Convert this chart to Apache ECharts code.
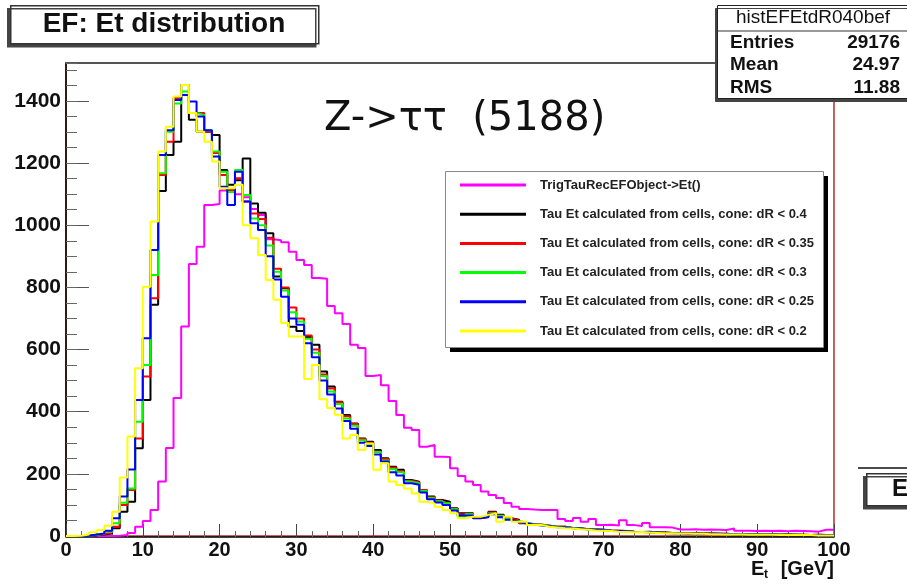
<!DOCTYPE html>
<html>
<head>
<meta charset="utf-8">
<style>
  html, body { margin: 0; padding: 0; background: #fff; }
  #chart-container { width: 907px; height: 588px; }
</style>
<script src="https://cdn.jsdelivr.net/npm/echarts@6/dist/echarts.min.js"></script>
</head>
<body>
<div id="chart-container"></div>
<script>
// bin contents, 1 GeV bins from 0 to 100
var seriesNames = [
  'TrigTauRecEFObject->Et()',
  'Tau Et calculated from cells, cone: dR < 0.4',
  'Tau Et calculated from cells, cone: dR < 0.35',
  'Tau Et calculated from cells, cone: dR < 0.3',
  'Tau Et calculated from cells, cone: dR < 0.25',
  'Tau Et calculated from cells, cone: dR < 0.2'
];
var seriesColors = ['#ff00ff', '#000000', '#ff0000', '#00ff00', '#0000ff', '#ffff00'];

var efObject = [
  0, 0, 0, 0, 0, 0, 1, 3, 10, 30,
  48, 84, 175, 283, 444, 674, 875, 931, 1065, 1068,
  1112, 1110, 1100, 1090, 1052, 1033, 955, 952, 945, 915,
  888, 872, 830, 828, 740, 717, 682, 615, 605, 515,
  518, 485, 434, 389, 348, 341, 287, 293, 255, 254,
  218, 193, 175, 164, 143, 132, 122, 106, 94, 87,
  85, 84, 84, 84, 55, 48, 58, 46, 55, 35,
  36, 34, 51, 35, 32, 42, 28, 28, 27, 21,
  21, 22, 20, 21, 20, 19, 24, 17, 17, 16,
  17, 16, 17, 15, 17, 16, 15, 14, 20, 20
];
var dR040 = [
  0, 0, 1, 2, 5, 8, 25, 78, 110, 282,
  438, 744, 1110, 1226, 1269, 1451, 1339, 1301, 1301, 1290,
  1178, 1130, 1145, 1215, 1070, 1040, 974, 835, 797, 673,
  660, 640, 615, 529, 481, 432, 389, 362, 314, 303,
  277, 250, 223, 213, 180, 175, 148, 127, 116, 110,
  89, 73, 73, 57, 62, 78, 68, 57, 52, 41,
  38, 36, 33, 30, 30, 26, 25, 22, 22, 20,
  18, 17, 16, 14, 13, 14, 12, 11, 10, 10,
  9, 9, 8, 8, 7, 7, 6, 6, 6, 5,
  5, 5, 4, 5, 4, 4, 3, 4, 3, 3
];
var dR035 = [
  0, 0, 1, 3, 6, 11, 30, 100, 148, 314,
  513, 765, 1162, 1269, 1409, 1419, 1361, 1361, 1301, 1232,
  1162, 1113, 1151, 1076, 1038, 1020, 960, 860, 800, 735,
  700, 645, 600, 520, 475, 430, 385, 360, 312, 300,
  272, 248, 220, 208, 178, 172, 148, 125, 114, 107,
  88, 70, 72, 58, 62, 76, 66, 56, 50, 42,
  38, 36, 33, 30, 30, 26, 25, 22, 21, 20,
  18, 17, 16, 14, 13, 13, 12, 11, 10, 10,
  9, 9, 8, 8, 7, 7, 6, 6, 6, 5,
  5, 5, 4, 5, 4, 4, 3, 4, 3, 3
];
var dR030 = [
  0, 0, 1, 4, 7, 14, 41, 107, 153, 368,
  550, 840, 1167, 1301, 1392, 1430, 1361, 1355, 1306, 1237,
  1172, 1107, 1178, 1097, 1022, 1000, 935, 850, 790, 720,
  690, 635, 590, 515, 465, 425, 378, 355, 308, 296,
  270, 243, 215, 205, 175, 170, 145, 122, 112, 105,
  86, 62, 70, 60, 62, 72, 64, 55, 48, 42,
  37, 36, 32, 29, 29, 26, 24, 22, 21, 19,
  17, 16, 15, 13, 13, 12, 11, 10, 9, 9,
  8, 8, 7, 7, 7, 6, 6, 5, 5, 5,
  4, 4, 4, 4, 4, 3, 3, 3, 3, 3
];
var dR025 = [
  0, 0, 1, 5, 8, 17, 57, 127, 214, 438,
  636, 920, 1226, 1306, 1403, 1419, 1398, 1350, 1306, 1221,
  1124, 1065, 1172, 1076, 1006, 985, 900, 825, 770, 700,
  680, 620, 575, 500, 455, 410, 370, 345, 300, 290,
  262, 240, 205, 195, 170, 165, 140, 118, 108, 100,
  82, 66, 66, 58, 60, 70, 60, 52, 46, 40,
  36, 34, 31, 28, 28, 25, 24, 21, 20, 19,
  17, 16, 15, 13, 13, 12, 11, 10, 9, 9,
  8, 8, 7, 7, 7, 6, 6, 5, 5, 5,
  4, 5, 4, 4, 4, 3, 3, 3, 3, 3
];
var dR020 = [
  0, 1, 5, 12, 19, 33, 78, 188, 320, 540,
  802, 1012, 1237, 1317, 1414, 1451, 1361, 1301, 1269, 1205,
  1119, 1119, 1130, 1000, 958, 904, 824, 760, 685, 642,
  642, 505, 550, 440, 412, 390, 314, 325, 277, 298,
  213, 234, 175, 164, 153, 137, 110, 105, 94, 84,
  73, 57, 62, 62, 68, 73, 46, 62, 46, 46,
  35, 35, 30, 27, 25, 24, 22, 20, 18, 17,
  16, 14, 13, 12, 13, 11, 10, 9, 9, 8,
  8, 7, 7, 6, 6, 5, 5, 5, 4, 4,
  4, 4, 3, 3, 3, 3, 3, 2, 2, 2
];
var xTicks = [0, 10, 20, 30, 40, 50, 60, 70, 80, 90, 100];
var yTicks = [0, 200, 400, 600, 800, 1000, 1200, 1400];

var statsTitle = 'histEFEtdR040bef';
var statsLabels = ['Entries', 'Mean', 'RMS'];
var statsValues = ['29176', '24.97', '11.88'];

var dom = document.getElementById('chart-container');
var myChart = echarts.init(dom, null, {
  renderer: 'canvas',
  useDirtyRect: false
});

var FONT = '"Liberation Sans", Arial, sans-serif';
var yMax = 1522;

// step 'end' keeps each bin flat over [n, n+1)
function toSteps(values) {
  var pts = values.map(function (v, i) { return [i, v]; });
  pts.push([values.length, values[values.length - 1]]);
  return pts;
}

var allData = [efObject, dR040, dR035, dR030, dR025, dR020];

var series = allData.map(function (vals, k) {
  return {
    name: seriesNames[k],
    type: 'line',
    step: 'end',
    showSymbol: false,
    symbol: 'none',
    color: seriesColors[k],
    lineStyle: { color: seriesColors[k], width: 2 },
    itemStyle: { color: seriesColors[k] },
    data: toSteps(vals),
    animation: false
  };
});

var graphics = [
  // title box
  {
    type: 'rect', left: 10, top: 5, z: 10,
    shape: { width: 308, height: 38 },
    style: { fill: '#fff', stroke: '#333', lineWidth: 1.5, shadowColor: '#444', shadowOffsetX: -3, shadowOffsetY: 3, shadowBlur: 0 }
  },
  {
    type: 'text', x: 164, y: 24, z: 11,
    style: { text: 'EF: Et distribution', font: 'bold 28px ' + FONT, fill: '#111', align: 'center', verticalAlign: 'middle' }
  },
  // stats box, drawn over the frame
  {
    type: 'rect', left: 717, top: 5, z: 10,
    shape: { width: 200, height: 93 },
    style: { fill: '#fff', stroke: '#222', lineWidth: 1, shadowColor: '#444', shadowOffsetX: -2, shadowOffsetY: 3, shadowBlur: 0 }
  },
  {
    type: 'line', z: 11, shape: { x1: 717, y1: 31, x2: 907, y2: 31 },
    style: { stroke: '#333', lineWidth: 1 }
  },
  {
    type: 'text', x: 813, y: 18, z: 11,
    style: { text: statsTitle, font: '19px ' + FONT, fill: '#111', align: 'center', verticalAlign: 'middle' }
  },
  // Z -> tau tau label
  {
    type: 'text', x: 324, y: 120,
    style: { text: 'Z->\u03c4\u03c4  (5188)', font: '40px "DejaVu Sans", sans-serif', fill: '#111', align: 'left', verticalAlign: 'middle' }
  },
  // legend frame with ROOT-style shadow, kept above the curves
  {
    type: 'rect', left: 450, top: 176, z: 3,
    shape: { width: 378, height: 176 },
    style: { fill: '#000' }
  },
  {
    type: 'rect', left: 445, top: 171, z: 3,
    shape: { width: 378, height: 176 },
    style: { fill: '#fff', stroke: '#888', lineWidth: 1 }
  },
  // axis title
  {
    type: 'text', x: 751, y: 569,
    style: { text: 'E', font: 'bold 20px ' + FONT, fill: '#111', align: 'left', verticalAlign: 'middle' }
  },
  {
    type: 'text', x: 764, y: 575,
    style: { text: 't', font: 'bold 12px ' + FONT, fill: '#111', align: 'left', verticalAlign: 'middle' }
  },
  {
    type: 'text', x: 834, y: 569,
    style: { text: '[GeV]', font: 'bold 20px ' + FONT, fill: '#111', align: 'right', verticalAlign: 'middle' }
  },
  // neighbouring pad's title, cut at the edge
  {
    type: 'line', shape: { x1: 858, y1: 468, x2: 907, y2: 468 },
    style: { stroke: '#111', lineWidth: 1.5 }
  },
  {
    type: 'rect', left: 866, top: 473,
    shape: { width: 60, height: 32 },
    style: { fill: '#fff', stroke: '#333', lineWidth: 1.5, shadowColor: '#444', shadowOffsetX: -3, shadowOffsetY: 3, shadowBlur: 0 }
  },
  {
    type: 'text', x: 892, y: 489,
    style: { text: 'E', font: 'bold 24px ' + FONT, fill: '#111', align: 'left', verticalAlign: 'middle' }
  }
];

statsLabels.forEach(function (lab, i) {
  var y = [43, 65, 88][i];
  graphics.push({
    type: 'text', x: 730, y: y, z: 11,
    style: { text: lab, font: 'bold 19px ' + FONT, fill: '#111', align: 'left', verticalAlign: 'middle' }
  });
  graphics.push({
    type: 'text', x: 900, y: y, z: 11,
    style: { text: statsValues[i], font: 'bold 19px ' + FONT, fill: '#111', align: 'right', verticalAlign: 'middle' }
  });
});

var option = {
  backgroundColor: '#fff',
  animation: false,
  grid: {
    left: 66, right: 73, top: 63, bottom: 52, containLabel: false,
    show: true, backgroundColor: 'transparent', borderColor: '#b03030', borderWidth: 1.5
  },
  legend: {
    orient: 'vertical',
    left: 448,
    top: 171,
    z: 5,
    padding: [7, 11, 9, 12],
    itemWidth: 66,
    itemHeight: 3,
    itemGap: 15.2,
    icon: 'rect',
    selectedMode: false,
    textStyle: { fontFamily: FONT, fontWeight: 'bold', fontSize: 13, color: '#222', lineHeight: 14, padding: [0, 0, 0, 9] },
    data: seriesNames
  },
  xAxis: [
    {
      type: 'value', min: 0, max: 100, interval: 10, position: 'bottom', offset: 1,
      axisLine: { show: true, onZero: false, lineStyle: { color: '#000', width: 1.5 } },
      axisTick: { show: true, inside: true, length: 13, lineStyle: { color: '#444', width: 1 } },
      minorTick: { show: true, splitNumber: 5, length: 6, lineStyle: { color: '#666', width: 1 } },
      splitLine: { show: false },
      axisLabel: {
        fontFamily: FONT, fontWeight: 'bold', fontSize: 20, color: '#111', margin: 3,
        formatter: function (v) { return xTicks.indexOf(v) >= 0 ? String(v) : ''; }
      }
    },
    {
      type: 'value', min: 0, max: 100, position: 'top',
      axisLine: { show: true, onZero: false, lineStyle: { color: '#555', width: 2 } },
      axisTick: { show: false }, axisLabel: { show: false }, splitLine: { show: false }
    }
  ],
  yAxis: [
    {
      type: 'value', min: 0, max: yMax, interval: 200, position: 'left',
      axisLine: { show: true, onZero: false, lineStyle: { color: '#000', width: 1.5 } },
      axisTick: { show: true, inside: true, length: 23, lineStyle: { color: '#555', width: 1 } },
      splitLine: { show: false },
      axisLabel: {
        fontFamily: FONT, fontWeight: 'bold', fontSize: 21, color: '#111', margin: 5,
        formatter: function (v) { return yTicks.indexOf(v) >= 0 ? String(v) : ''; }
      }
    },
    {
      type: 'value', min: 0, max: yMax, interval: 50, position: 'left',
      axisLine: { show: false },
      axisTick: { show: true, inside: true, length: 11, lineStyle: { color: '#666', width: 1 } },
      axisLabel: { show: false }, splitLine: { show: false }
    }
  ],
  graphic: graphics,
  series: series
};

if (option && typeof option === 'object') {
  myChart.setOption(option);
}

window.addEventListener('resize', myChart.resize);
</script>
</body>
</html>
